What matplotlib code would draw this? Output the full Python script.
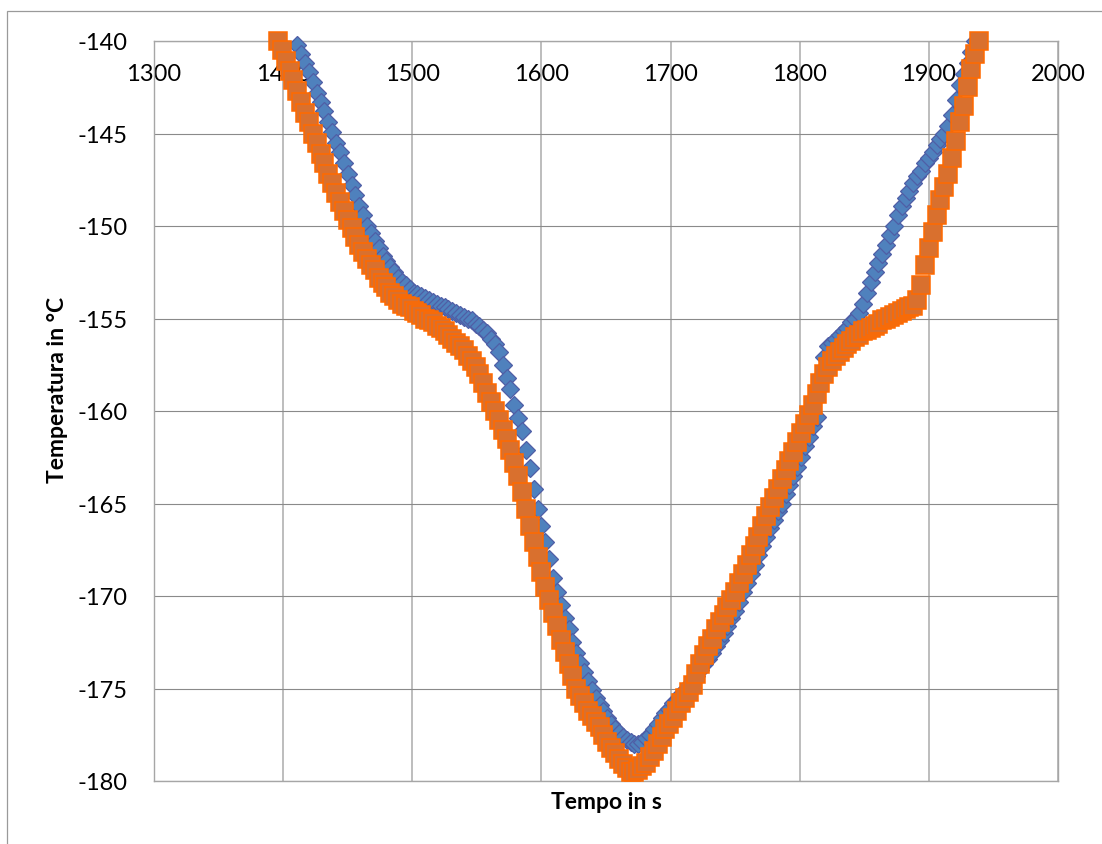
import matplotlib
matplotlib.use("Agg")
from matplotlib import pyplot as plt
from matplotlib.patches import Rectangle

plt.rcParams["font.family"] = ["Lato", "DejaVu Sans"]
plt.rcParams["axes.unicode_minus"] = False

# measured series, one reading every 3 s
blu_start = 1411
blu_temp = [
    -140.2, -140.7, -141.2, -141.7, -142.2, -142.8, -143.3, -143.8, -144.4, -144.9,
    -145.5, -146.0, -146.6, -147.2, -147.8, -148.3, -148.9, -149.4, -150.0, -150.4,
    -150.8, -151.2, -151.6, -151.9, -152.2, -152.5, -152.8, -153.0, -153.2, -153.4,
    -153.6, -153.7, -153.8, -153.9, -154.0, -154.1, -154.2, -154.3, -154.4, -154.5,
    -154.6, -154.7, -154.8, -154.9, -155.0, -155.1, -155.3, -155.4, -155.6, -155.8,
    -156.1, -156.4, -156.8, -157.5, -158.2, -158.8, -159.7, -160.4, -161.1, -162.1,
    -163.1, -164.2, -165.3, -166.2, -167.1, -168.0, -169.0, -169.8, -170.5, -171.2,
    -171.8, -172.5, -173.1, -173.6, -174.1, -174.6, -175.1, -175.5, -175.9, -176.2,
    -176.6, -176.9, -177.2, -177.4, -177.6, -177.8, -177.9, -178.0, -178.0, -177.9,
    -177.7, -177.5, -177.2, -176.9, -176.6, -176.3, -176.1, -175.8, -175.6, -175.3,
    -175.1, -174.8, -174.5, -174.3, -174.0, -173.7, -173.4, -173.1, -172.7, -172.4,
    -172.0, -171.6, -171.2, -170.8, -170.3, -169.8, -169.3, -168.8, -168.3, -167.8,
    -167.3, -166.8, -166.3, -165.9, -165.4, -165.0, -164.5, -164.0, -163.5, -163.0,
    -162.5, -161.9, -161.4, -160.8, -160.3, -158.4, -157.1, -156.5, -156.3, -156.1,
    -155.9, -155.7, -155.5, -155.2, -155.0, -154.7, -154.2, -153.6, -153.0, -152.5,
    -152.0, -151.5, -151.0, -150.5, -150.0, -149.4, -148.9, -148.5, -148.1, -147.7,
    -147.3, -147.0, -146.6, -146.3, -146.0, -145.6, -145.3, -145.0, -144.6, -144.0,
    -143.2, -142.4, -141.8, -141.2, -140.6, -140.0,
]

ora_start = 1396
ora_temp = [
    -140.0, -140.5, -141.1, -141.6, -142.1, -142.7, -143.3, -143.9, -144.4, -145.0,
    -145.5, -146.1, -146.6, -147.2, -147.7, -148.2, -148.7, -149.2, -149.7, -150.1,
    -150.6, -151.0, -151.4, -151.8, -152.1, -152.4, -152.8, -153.1, -153.3, -153.6,
    -153.8, -154.0, -154.2, -154.3, -154.4, -154.6, -154.7, -154.8, -155.0, -155.1,
    -155.2, -155.4, -155.5, -155.7, -155.9, -156.1, -156.3, -156.5, -156.7, -157.0,
    -157.3, -157.6, -158.0, -158.5, -159.0, -159.5, -160.0, -160.5, -161.0, -161.5,
    -162.1, -162.8, -163.5, -164.4, -165.3, -166.2, -167.1, -167.9, -168.7, -169.5,
    -170.2, -170.9, -171.6, -172.4, -173.0, -173.7, -174.3, -175.0, -175.4, -175.8,
    -176.2, -176.5, -176.8, -177.1, -177.5, -177.9, -178.2, -178.5, -178.8, -179.1,
    -179.3, -179.5, -179.5, -179.4, -179.2, -179.0, -178.7, -178.4, -178.0, -177.6,
    -177.2, -176.9, -176.6, -176.2, -175.8, -175.5, -175.2, -174.8, -174.2, -173.7,
    -173.2, -172.7, -172.3, -171.8, -171.4, -171.0, -170.6, -170.2, -169.8, -169.3,
    -168.8, -168.3, -167.8, -167.3, -166.8, -166.2, -165.7, -165.2, -164.7, -164.2,
    -163.7, -163.2, -162.7, -162.2, -161.7, -161.2, -160.7, -160.2, -159.7, -159.1,
    -158.5, -158.0, -157.6, -157.3, -157.0, -156.8, -156.6, -156.4, -156.2, -156.0,
    -155.9, -155.7, -155.6, -155.5, -155.4, -155.3, -155.1, -155.0, -154.9, -154.8,
    -154.7, -154.6, -154.5, -154.4, -154.3, -154.0, -153.2, -152.1, -151.2, -150.3,
    -149.4, -148.6, -147.9, -147.2, -146.3, -145.4, -144.4, -143.5, -142.5, -141.5,
    -140.7, -140.0,
]

blu_time = list(range(blu_start, blu_start + 3 * len(blu_temp), 3))
ora_time = list(range(ora_start, ora_start + 3 * len(ora_temp), 3))

x_ticks = [1300, 1400, 1500, 1600, 1700, 1800, 1900, 2000]
y_ticks = [-140, -145, -150, -155, -160, -165, -170, -175, -180]

fig = plt.figure(figsize=(11.02, 8.45), dpi=100)
ax = fig.add_axes([154 / 1102, 1 - 782 / 845, 904 / 1102, 740 / 845])

# outer chart frame (only left/top visible in the original)
fig.patches.append(Rectangle((7 / 1102, -0.1), 1.2, 1 - 12 / 845 + 0.1,
                             transform=fig.transFigure, fill=False,
                             edgecolor="#9a9a9a", linewidth=0.9))

ax.plot(blu_time, blu_temp, linestyle="none", marker="D", markersize=9.6,
        markerfacecolor="#4f81bd", markeredgecolor="#4f5ea6",
        markeredgewidth=0.9, clip_on=False, zorder=3)
ax.plot(ora_time, ora_temp, linestyle="none", marker="s", markersize=13.3,
        markerfacecolor="#d9702e", markeredgecolor="#ff6a00",
        markeredgewidth=1.1, clip_on=False, zorder=4)

ax.set_xlim(1300, 2000)
ax.set_ylim(-180, -140)
ax.set_xticks(x_ticks)
ax.set_yticks(y_ticks)

ax.xaxis.set_ticks_position("top")
ax.tick_params(axis="x", length=0, pad=-31, labelsize=17,
               labeltop=True, labelbottom=False)
ax.tick_params(axis="y", length=0, pad=19, labelsize=17)

ax.grid(axis="y", color="#8a8a8a", linewidth=0.8)
ax.grid(axis="x", color="#ababab", linewidth=1.1)
ax.set_axisbelow(True)
for s in ax.spines.values():
    s.set_color("#a6a6a6")
    s.set_linewidth(1.0)

fig.text((154 + 1058) / 2 / 1102, 1 - 803 / 845, "Tempo in s",
         ha="center", va="center", fontsize=16.5, fontweight="bold")
fig.text(58 / 1102, 1 - 390 / 845, "Temperatura in °C", rotation=90,
         ha="center", va="center", fontsize=16.5, fontweight="bold")

fig.savefig("out.png", dpi=100)
